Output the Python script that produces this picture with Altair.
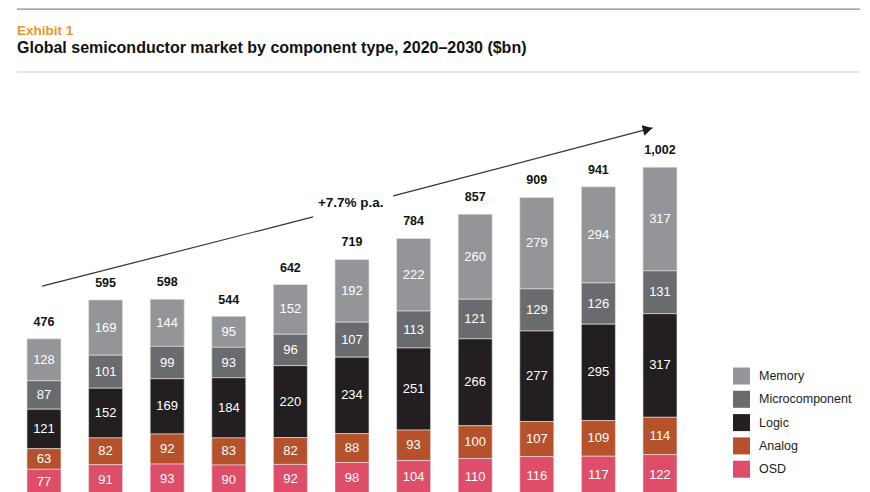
import altair as alt
import pandas as pd

years = [2020, 2021, 2022, 2023, 2024, 2025, 2026, 2027, 2028, 2029, 2030]
categories = ["Memory", "Microcomponent", "Logic", "Analog", "OSD"]
memory = [128, 169, 144, 95, 152, 192, 222, 260, 279, 294, 317]
micro = [87, 101, 99, 93, 96, 107, 113, 121, 129, 126, 131]
logic = [121, 152, 169, 184, 220, 234, 251, 266, 277, 295, 317]
analog = [63, 82, 92, 83, 82, 88, 93, 100, 107, 109, 114]
osd = [77, 91, 93, 90, 92, 98, 104, 110, 116, 117, 122]
totals = [476, 595, 598, 544, 642, 719, 784, 857, 909, 941, 1002]
colors = ["#939598", "#6a6b6e", "#231f20", "#b6522b", "#df4e69"]
stack_rank = {"OSD": 0, "Analog": 1, "Logic": 2, "Microcomponent": 3, "Memory": 4}

series = {"Memory": memory, "Microcomponent": micro, "Logic": logic,
          "Analog": analog, "OSD": osd}
rows = []
for cat, vals in series.items():
    for y, v in zip(years, vals):
        rows.append({"year": y, "category": cat, "value": v, "rank": stack_rank[cat]})
df = pd.DataFrame(rows)
tot_df = pd.DataFrame({"year": years, "total": totals})

# annotation arrow (data coordinates)
arrow_left = pd.DataFrame({"x": [2019.97], "y": [637], "x2": [2024.37], "y2": [849]})
arrow_right = pd.DataFrame({"x": [2025.67], "y": [913], "x2": [2029.88], "y2": [1121]})
arrow_head = pd.DataFrame({"x": [2029.80], "y": [1117]})
arrow_label = pd.DataFrame({"x": [2024.98], "y": [891], "t": ["+7.7% p.a."]})

FONT = "Liberation Sans"
W, H = 843, 484
xscale = alt.Scale(domain=[2019.562, 2033.247], nice=False, zero=False, padding=0)
yscale = alt.Scale(domain=[7.6, 1487.8], nice=False, zero=False)
X = lambda f: alt.X(f, scale=xscale, axis=None)
Y = lambda f: alt.Y(f, scale=yscale, axis=None)

base = alt.Chart(df)

bars = base.mark_bar(size=34, clip=True, stroke="#e6e6e6", strokeWidth=0.6).encode(
    x=X("year:Q"),
    y=alt.Y("value:Q", stack="zero", scale=yscale, axis=None),
    color=alt.Color("category:N",
                    scale=alt.Scale(domain=categories, range=colors),
                    legend=alt.Legend(orient="none", legendX=716, legendY=359.5,
                                      title=None, symbolType="square", symbolSize=289,
                                      symbolStrokeWidth=0, symbolOpacity=1,
                                      labelFont=FONT, labelFontSize=12.5,
                                      labelColor="#222222", labelOffset=9,
                                      rowPadding=6.3, padding=0)),
    order=alt.Order("rank:Q", sort="ascending"),
)

seg_labels = base.transform_stack(
    stack="value", groupby=["year"], sort=[alt.SortField("rank", order="ascending")],
    as_=["v0", "v1"]
).transform_calculate(mid="(datum.v0 + datum.v1) / 2").mark_text(
    font=FONT, fontSize=13, color="white", baseline="middle", align="center"
).encode(x=X("year:Q"), y=Y("mid:Q"), text="value:Q")

tot_labels = alt.Chart(tot_df).mark_text(
    font=FONT, fontSize=12.5, fontWeight="bold", color="#111111", dy=-13,
    baseline="alphabetic", align="center"
).encode(x=X("year:Q"), y=Y("total:Q"), text=alt.Text("total:Q", format=","))

line_l = alt.Chart(arrow_left).mark_rule(color="#333333", strokeWidth=1.2).encode(
    x=X("x:Q"), y=Y("y:Q"), x2="x2:Q", y2="y2:Q")
line_r = alt.Chart(arrow_right).mark_rule(color="#333333", strokeWidth=1.2).encode(
    x=X("x:Q"), y=Y("y:Q"), x2="x2:Q", y2="y2:Q")
head = alt.Chart(arrow_head).mark_point(
    shape="triangle-up", filled=True, size=120, angle=75, color="#1a1a1a", opacity=1
).encode(x=X("x:Q"), y=Y("y:Q"))
alabel = alt.Chart(arrow_label).mark_text(
    font=FONT, fontSize=13.5, fontWeight="bold", color="#111111", baseline="middle"
).encode(x=X("x:Q"), y=Y("y:Q"), text="t:N")

# header lines & titles
hdr = pd.DataFrame({"a": [0]})
top_rule = alt.Chart(hdr).mark_rect(color="#8a8a8a").encode(
    x=alt.value(0), x2=alt.value(843), y=alt.value(0.5), y2=alt.value(1.7))
mid_rule = alt.Chart(hdr).mark_rect(color="#cfcfcf").encode(
    x=alt.value(0), x2=alt.value(843), y=alt.value(63.5), y2=alt.value(64.5))
exhibit = alt.Chart(pd.DataFrame({"t": ["Exhibit  1"]})).mark_text(
    font=FONT, fontSize=13.5, fontWeight="bold", color="#e8962e", align="left",
    baseline="middle").encode(x=alt.value(0), y=alt.value(23), text="t:N")
title = alt.Chart(pd.DataFrame({"t": ["Global semiconductor market by component type, 2020–2030 ($bn)"]})).mark_text(
    font=FONT, fontSize=16, fontWeight="bold", color="#111111", align="left",
    baseline="middle").encode(x=alt.value(0), y=alt.value(39.5), text="t:N")

chart = alt.layer(
    bars, seg_labels, tot_labels, line_l, line_r, head, alabel,
    top_rule, mid_rule, exhibit, title
).properties(
    width=W, height=H,
    autosize=alt.AutoSizeParams(type="none"),
    padding={"left": 9, "top": 0, "right": 2, "bottom": 0},
).configure(background="white").configure_view(stroke=None)

chart.save("out.html", embed_options={"renderer": "svg", "actions": False})
